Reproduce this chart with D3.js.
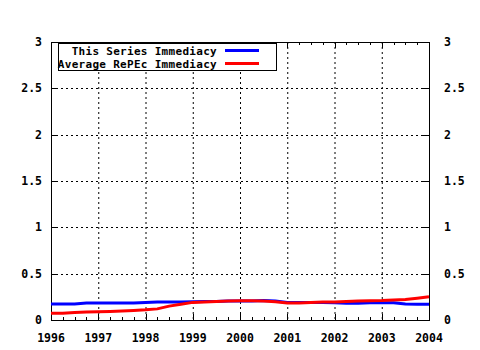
<!DOCTYPE html>
<html><head><meta charset="utf-8">
<script src="https://cdn.jsdelivr.net/npm/d3@7"></script>
<style>
html,body{margin:0;padding:0;background:#fff;}
svg text{font-family:"DejaVu Sans Mono",monospace;font-weight:bold;font-size:11.5px;fill:#000;}
svg text.lg{font-size:11px;letter-spacing:0.3px;}
</style></head>
<body><svg id="c" width="480" height="350"></svg>
<script>
// Quarterly time points 1996.0 .. 2004.0
const timePoints = [1996,1996.25,1996.5,1996.75,1997,1997.25,1997.5,1997.75,1998,1998.25,1998.5,1998.75,
  1999,1999.25,1999.5,1999.75,2000,2000.25,2000.5,2000.75,2001,2001.25,2001.5,2001.75,
  2002,2002.25,2002.5,2002.75,2003,2003.25,2003.5,2003.75,2004];
const seriesImmediacy = [0.173,0.173,0.173,0.183,0.183,0.183,0.183,0.183,0.19,0.194,0.194,0.194,
  0.197,0.2,0.2,0.205,0.205,0.205,0.21,0.205,0.19,0.19,0.19,0.19,
  0.185,0.18,0.18,0.185,0.187,0.187,0.172,0.17,0.17];
const repecImmediacy = [0.072,0.074,0.08,0.085,0.088,0.092,0.097,0.103,0.11,0.12,0.15,0.17,
  0.19,0.195,0.2,0.205,0.208,0.208,0.205,0.198,0.183,0.183,0.19,0.195,
  0.195,0.2,0.205,0.208,0.21,0.215,0.222,0.235,0.25];
const seriesNames = ["This Series Immediacy","Average RePEc Immediacy"];
const seriesColors = ["#0000ff","#ff0000"];
const xTicks = [1996,1997,1998,1999,2000,2001,2002,2003,2004];
const yTicks = [0,0.5,1,1.5,2,2.5,3];
const yTickLabels = ["0","0.5","1","1.5","2","2.5","3"];

const svg = d3.select("#c");
const L=51,R=429,T=42,B=320;
const x = d3.scaleLinear().domain([1996,2004]).range([L,R]);
const y = d3.scaleLinear().domain([0,3]).range([B,T]);

// grid
const g = svg.append("g");
g.selectAll(".gx").data(xTicks.slice(1,-1)).enter().append("line")
  .attr("x1",d=>x(d)+0.5).attr("x2",d=>x(d)+0.5).attr("y1",T).attr("y2",B)
  .attr("stroke","#000").attr("stroke-width",1).attr("stroke-dasharray","2,3");
g.selectAll(".gy").data(yTicks.slice(1,-1)).enter().append("line")
  .attr("y1",d=>Math.round(y(d))+0.5).attr("y2",d=>Math.round(y(d))+0.5).attr("x1",L).attr("x2",R)
  .attr("stroke","#000").attr("stroke-width",1).attr("stroke-dasharray","2,3");

// minor ticks (quarters)
const minor = d3.range(1996,2004.001,0.25).filter(v=>Math.abs(v-Math.round(v))>1e-6);
[B,T].forEach((yy,i)=>{
  const dir = i===0?-1:1;
  g.selectAll(null).data(minor).enter().append("line")
    .attr("x1",d=>Math.round(x(d))+0.5).attr("x2",d=>Math.round(x(d))+0.5)
    .attr("y1",yy).attr("y2",yy+dir*3).attr("stroke","#000");
  g.selectAll(null).data(xTicks).enter().append("line")
    .attr("x1",d=>Math.round(x(d))+0.5).attr("x2",d=>Math.round(x(d))+0.5)
    .attr("y1",yy).attr("y2",yy+dir*6).attr("stroke","#000");
});
[L,R].forEach((xx,i)=>{
  const dir = i===0?1:-1;
  g.selectAll(null).data(yTicks).enter().append("line")
    .attr("y1",d=>Math.round(y(d))+0.5).attr("y2",d=>Math.round(y(d))+0.5)
    .attr("x1",xx).attr("x2",xx+dir*6).attr("stroke","#000");
});

// border
svg.append("rect").attr("x",L+0.5).attr("y",T+0.5).attr("width",R-L).attr("height",B-T)
  .attr("fill","none").attr("stroke","#000").attr("stroke-width",1);

// labels
svg.selectAll(".xl").data(xTicks).enter().append("text")
  .attr("x",d=>x(d)).attr("y",342).attr("text-anchor","middle").text(d=>d);
svg.selectAll(".yl").data(yTicks).enter().append("text")
  .attr("x",42).attr("y",d=>y(d)+4).attr("text-anchor","end").text((d,i)=>yTickLabels[i]);
svg.selectAll(".yr").data(yTicks).enter().append("text")
  .attr("x",444).attr("y",d=>y(d)+4).attr("text-anchor","start").text((d,i)=>yTickLabels[i]);

// lines
const line = d3.line().x((d,i)=>x(timePoints[i])).y(d=>y(d));
[seriesImmediacy,repecImmediacy].forEach((s,k)=>{
  svg.append("path").datum(s).attr("d",line).attr("fill","none")
    .attr("stroke",seriesColors[k]).attr("stroke-width",3);
});

// legend
const lg = svg.append("g");
lg.append("rect").attr("x",58.5).attr("y",43.5).attr("width",218).attr("height",27)
  .attr("fill","#fff").attr("stroke","#000");
seriesNames.forEach((n,k)=>{
  const yy = 50.5 + k*13;
  lg.append("text").attr("class","lg").attr("x",217).attr("y",yy+4).attr("text-anchor","end").text(n);
  lg.append("line").attr("x1",225).attr("x2",259).attr("y1",yy).attr("y2",yy)
    .attr("stroke",seriesColors[k]).attr("stroke-width",3);
});
</script></body></html>
